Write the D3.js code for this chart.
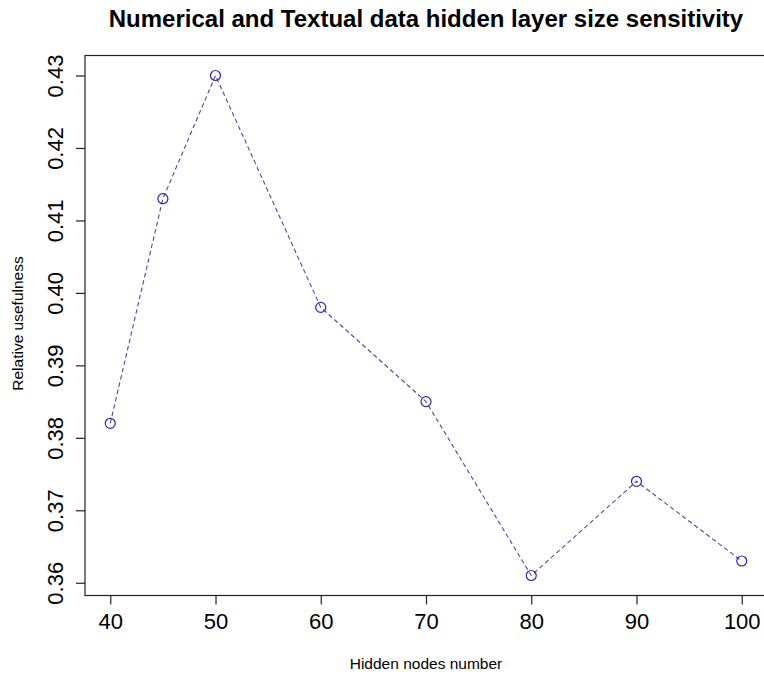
<!DOCTYPE html>
<html><head><meta charset="utf-8">
<script src="https://cdn.jsdelivr.net/npm/d3@7"></script>
<style>body{margin:0;background:#fff}svg{display:block}text{font-family:"Liberation Sans",Arial,sans-serif;fill:#000}</style>
</head><body><svg id="c" width="764" height="675"></svg>
<script>
const hiddenNodes = [40, 45, 50, 60, 70, 80, 90, 100];
const usefulness = [0.382, 0.413, 0.430, 0.398, 0.385, 0.361, 0.374, 0.363];
const xTicks = [40, 50, 60, 70, 80, 90, 100];
const yTicks = [0.36, 0.37, 0.38, 0.39, 0.40, 0.41, 0.42, 0.43];
const title = "Numerical and Textual data hidden layer size sensitivity";
const xLabel = "Hidden nodes number";
const yLabel = "Relative usefulness";

const svg = d3.select("#c");
const L = 85, R = 767, T = 55.5, B = 595.5;
const xr = d3.extent(hiddenNodes), yr = d3.extent(usefulness);
const xp = (xr[1]-xr[0])*0.04, yp = (yr[1]-yr[0])*0.04;
const x = d3.scaleLinear().domain([xr[0]-xp, xr[1]+xp]).range([L, R]);
const y = d3.scaleLinear().domain([yr[0]-yp, yr[1]+yp]).range([B, T]);

svg.append("rect").attr("x", L).attr("y", T).attr("width", R-L).attr("height", B-T)
  .attr("fill", "none").attr("stroke", "#222").attr("stroke-width", 1.2);

const xa = svg.append("g").attr("transform", `translate(0,${B})`)
  .call(d3.axisBottom(x).tickValues(xTicks).tickSize(9).tickPadding(9).tickFormat(d3.format("d")));
xa.select(".domain").remove();
xa.selectAll("line").attr("stroke", "#222").attr("stroke-width", 1.2);
xa.selectAll("text").attr("font-size", 22).attr("font-family", "Liberation Sans, Arial, sans-serif").attr("fill", "#000");

const ya = svg.append("g").attr("transform", `translate(${L},0)`)
  .call(d3.axisLeft(y).tickValues(yTicks).tickSize(9).tickFormat(d3.format(".2f")));
ya.select(".domain").remove();
ya.selectAll("line").attr("stroke", "#222").attr("stroke-width", 1.2);
ya.selectAll("text").attr("font-size", 22).attr("font-family", "Liberation Sans, Arial, sans-serif").attr("fill", "#000")
  .attr("x", null).attr("dy", null).attr("text-anchor", "middle")
  .attr("transform", "translate(-22.5,0) rotate(-90)");

const line = d3.line().x((d, i) => x(hiddenNodes[i])).y(d => y(d));
svg.append("path").datum(usefulness).attr("d", line).attr("fill", "none")
  .attr("stroke", "#4a4aa8").attr("stroke-width", 1.1).attr("stroke-dasharray", "4.5,3");
svg.selectAll("circle.pt").data(usefulness).enter().append("circle").attr("class", "pt")
  .attr("cx", (d, i) => x(hiddenNodes[i])).attr("cy", d => y(d)).attr("r", 5)
  .attr("fill", "none").attr("stroke", "#2a2ab4").attr("stroke-width", 1.2);

svg.append("text").attr("x", (L+R)/2).attr("y", 26.5).attr("text-anchor", "middle")
  .attr("font-size", 24).attr("font-weight", "bold").text(title);
svg.append("text").attr("x", (L+R)/2).attr("y", 669).attr("text-anchor", "middle")
  .attr("font-size", 15.5).text(xLabel);
svg.append("text").attr("transform", `translate(22.7,323.5) rotate(-90)`).attr("text-anchor", "middle")
  .attr("font-size", 15.5).text(yLabel);
</script></body></html>
